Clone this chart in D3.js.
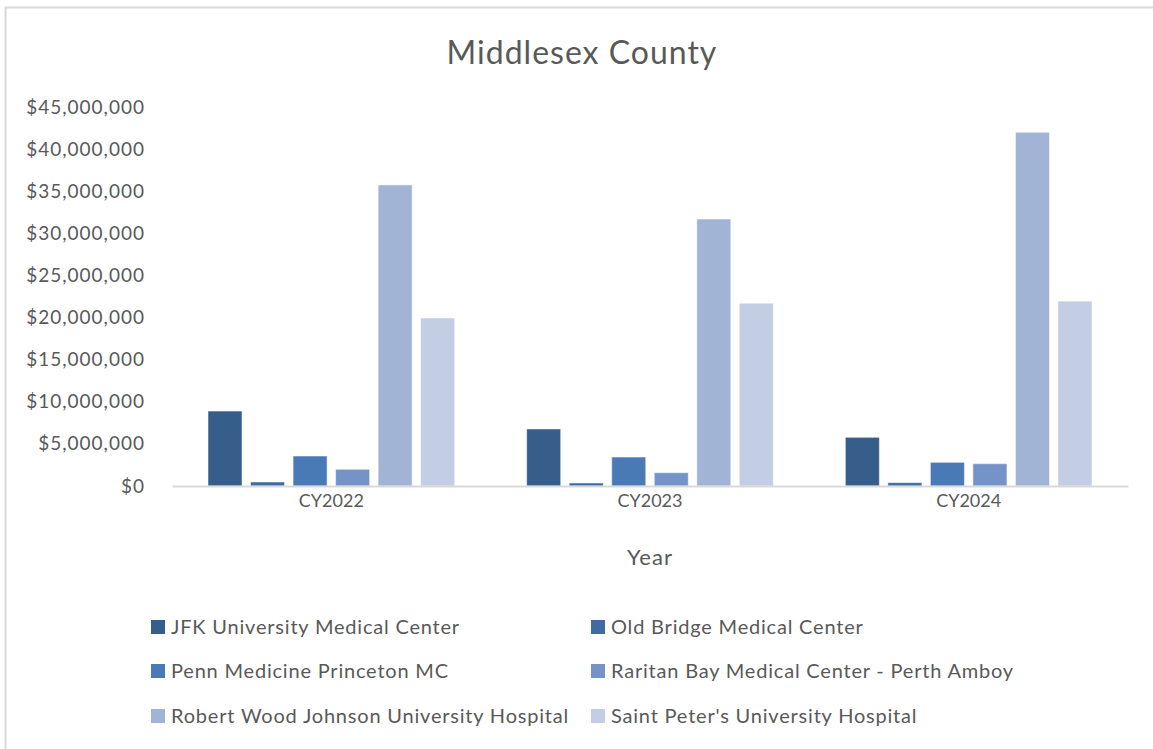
<!DOCTYPE html>
<html>
<head>
<meta charset="utf-8">
<script src="https://cdn.jsdelivr.net/npm/d3@7"></script>
<style>
  body { margin: 0; background: #fff; }
  svg { font-family: Lato, "Open Sans", sans-serif; }
</style>
</head>
<body>
<div id="chartarea"></div>
<script>
const years = ['CY2022', 'CY2023', 'CY2024'];
const hospitals = [
    'JFK University Medical Center',
    'Old Bridge Medical Center',
    'Penn Medicine Princeton MC',
    'Raritan Bay Medical Center - Perth Amboy',
    'Robert Wood Johnson University Hospital',
    "Saint Peter's University Hospital"
];
// values per hospital, one per year
const jfk = [8900000, 6770000, 5780000];
const oldBridge = [480000, 360000, 400000];
const pennPrinceton = [3560000, 3440000, 2810000];
const raritanBay = [1980000, 1580000, 2650000];
const rwj = [35750000, 31700000, 42000000];
const saintPeters = [19950000, 21700000, 21950000];
const yTicks = [0, 5000000, 10000000, 15000000, 20000000, 25000000, 30000000, 35000000, 40000000, 45000000];

const seriesValues = [jfk, oldBridge, pennPrinceton, raritanBay, rwj, saintPeters];
const colors = ['#375d8b', '#3f6ba1', '#4a7ab6', '#7494c7', '#a2b4d6', '#c3cde4'];

const W = 1153, H = 749;
const margin = { top: 107, left: 172, right: 25, bottom: 263 };
const width = W - margin.left - margin.right;
const height = H - margin.top - margin.bottom;

const svg = d3.select('#chartarea')
    .append('svg')
        .attr('width', W)
        .attr('height', H);

// chart border (extends past the window on right and bottom)
svg.append('rect')
    .attr('x', 5.5).attr('y', 7.5)
    .attr('width', W + 20).attr('height', H + 20)
    .attr('fill', 'none')
    .attr('stroke', '#d9d9d9')
    .attr('stroke-width', 2);

svg.append('text')
    .attr('x', 582).attr('y', 64)
    .attr('text-anchor', 'middle')
    .attr('font-size', '32px')
    .attr('letter-spacing', '1px')
    .attr('fill', '#595959')
    .text('Middlesex County');

const group = svg.append('g')
    .attr('transform', `translate(${margin.left}, ${margin.top})`);

const x = d3.scaleBand()
    .domain(years)
    .range([0, width])
    .padding(0);

const xInner = d3.scaleBand()
    .domain(hospitals)
    .range([36, x.bandwidth() - 36])
    .paddingInner(0.2)
    .paddingOuter(0);

const y = d3.scaleLinear()
    .domain([0, 45000000])
    .range([height, 0]);

// y axis labels
const yAxis = d3.axisLeft(y)
    .tickValues(yTicks)
    .tickSize(0)
    .tickPadding(27)
    .tickFormat(d => '$' + d3.format(',')(d));

const yg = group.append('g').call(yAxis);
yg.select('.domain').remove();
yg.selectAll('text')
    .attr('font-size', '19px')
    .attr('letter-spacing', '1px')
    .attr('fill', '#595959')
    .attr('font-family', 'Lato, "Open Sans", sans-serif');

// bars
const rows = [];
years.forEach((yr, i) => {
    hospitals.forEach((h, j) => {
        rows.push({ year: yr, hospital: h, value: seriesValues[j][i], color: colors[j] });
    });
});

group.selectAll('rect.bar')
    .data(rows)
    .enter()
    .append('rect')
    .attr('class', 'bar')
    .attr('x', d => x(d.year) + xInner(d.hospital))
    .attr('y', d => y(d.value))
    .attr('width', xInner.bandwidth())
    .attr('height', d => height - y(d.value))
    .attr('fill', d => d.color)
    .attr('stroke', '#ffffff')
    .attr('stroke-opacity', 0.5)
    .attr('stroke-width', 1);

// x axis
const xAxis = d3.axisBottom(x)
    .tickSize(0)
    .tickPadding(8);
const xg = group.append('g')
    .attr('transform', `translate(0, ${height})`)
    .call(xAxis);
xg.select('.domain')
    .attr('stroke', '#d9d9d9')
    .attr('stroke-width', 2);
xg.selectAll('text')
    .attr('font-size', '18px')
    .attr('fill', '#595959')
    .attr('font-family', 'Lato, "Open Sans", sans-serif');

// x title
svg.append('text')
    .attr('x', 650).attr('y', 565)
    .attr('text-anchor', 'middle')
    .attr('font-size', '22px')
    .attr('letter-spacing', '1px')
    .attr('fill', '#595959')
    .text('Year');

// legend
const legendCols = [151, 591];
const legendRows = [627, 671, 716];
const legend = svg.selectAll('g.legend')
    .data(hospitals)
    .enter()
    .append('g')
    .attr('class', 'legend')
    .attr('transform', (d, i) => `translate(${legendCols[i % 2]}, ${legendRows[Math.floor(i / 2)]})`);

legend.append('rect')
    .attr('x', 0).attr('y', -7)
    .attr('width', 14).attr('height', 14)
    .attr('fill', (d, i) => colors[i]);

legend.append('text')
    .attr('x', 20).attr('y', 0)
    .attr('dy', '0.35em')
    .attr('font-size', '20px')
    .attr('letter-spacing', '0.8px')
    .attr('fill', '#595959')
    .text(d => d);
</script>
</body>
</html>
